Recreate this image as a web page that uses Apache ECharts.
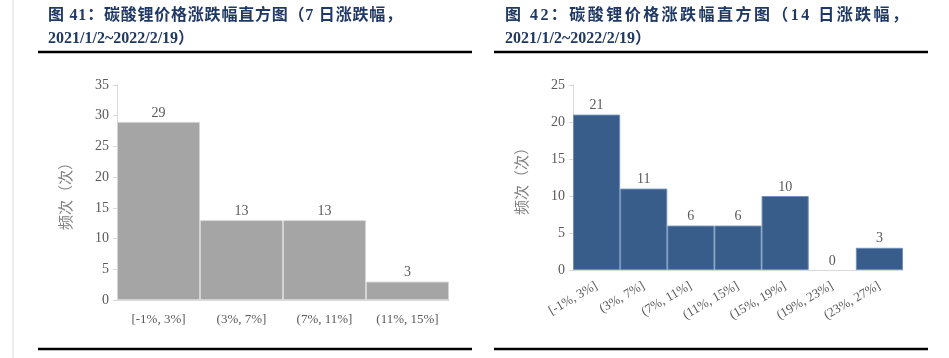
<!DOCTYPE html>
<html><head><meta charset="utf-8">
<script src="https://cdn.jsdelivr.net/npm/echarts@6/dist/echarts.min.js"></script>
<style>html,body{margin:0;padding:0;background:#fff}#c{width:949px;height:358px}</style>
</head><body><div id="c"></div>
<script>
// ---- data ----
var cats7 = ['[-1%, 3%]', '(3%, 7%]', '(7%, 11%]', '(11%, 15%]'];
var vals7 = [29, 13, 13, 3];
var cats14 = ['[-1%, 3%]', '(3%, 7%]', '(7%, 11%]', '(11%, 15%]', '(15%, 19%]', '(19%, 23%]', '(23%, 27%]'];
var vals14 = [21, 11, 6, 6, 10, 0, 3];
var yTicks7 = [0, 5, 10, 15, 20, 25, 30, 35];
var yTicks14 = [0, 5, 10, 15, 20, 25];
var title7a = '图 41：碳酸锂价格涨跌幅直方图（7 日涨跌幅，';
var title7b = '2021/1/2~2022/2/19）';
var title14a = '图 42：碳酸锂价格涨跌幅直方图（14 日涨跌幅，';
var title14b = '2021/1/2~2022/2/19）';
var yName = '频次（次）';

var serif = "'Liberation Serif','Noto Sans CJK SC',serif";
var titleFont = "'Liberation Serif','Noto Sans CJK SC',serif";
var titleColor = '#1f3864';
var axisGray = '#d9d9d9';
var textGray = '#595959';

function yAxis(idx, ticks) {
  return {
    type: 'value', gridIndex: idx, min: ticks[0], max: ticks[ticks.length - 1], interval: ticks[1] - ticks[0],
    name: yName, nameLocation: 'middle', nameGap: 44, nameRotate: 90,
    nameTextStyle: { color: '#7f7f7f', fontSize: 15, fontFamily: "'Noto Sans CJK SC',sans-serif" },
    axisLine: { show: true, lineStyle: { color: axisGray } },
    axisTick: { show: true, length: 4, lineStyle: { color: axisGray } },
    splitLine: { show: false },
    axisLabel: { color: textGray, fontSize: 14, fontFamily: serif, margin: 8 }
  };
}

var graphics = [
  { type: 'line', shape: { x1: 13, y1: 0, x2: 13, y2: 358 }, style: { stroke: '#d9d9d9', lineWidth: 1 } },
  { type: 'line', shape: { x1: 38, y1: 52, x2: 472, y2: 52 }, style: { stroke: '#000', lineWidth: 2.5 } },
  { type: 'line', shape: { x1: 494, y1: 52, x2: 928, y2: 52 }, style: { stroke: '#000', lineWidth: 2.5 } },
  { type: 'line', shape: { x1: 38, y1: 349, x2: 472, y2: 349 }, style: { stroke: '#000', lineWidth: 2.5 } },
  { type: 'line', shape: { x1: 494, y1: 349, x2: 928, y2: 349 }, style: { stroke: '#000', lineWidth: 2.5 } },
  { type: 'text', left: 48, top: 31, style: { text: title7b, fill: titleColor, font: 'bold 16px ' + titleFont } },
  { type: 'text', left: 505, top: 31, style: { text: title14b, fill: titleColor, font: 'bold 16px ' + titleFont } }
];
// title line 1 spread across a given width (justified text)
function spread(text, x0, x1) {
  var chars = Array.from(text);
  var widths = chars.map(function (ch) {
    if (ch === ' ') return 4;
    if (/[0-9]/.test(ch)) return 8;
    return 16;
  });
  var total = widths.reduce(function (a, b) { return a + b; }, 0);
  var extra = (x1 - x0 - total) / (chars.length - 1);
  var x = x0;
  chars.forEach(function (ch, i) {
    if (ch !== ' ') {
      graphics.push({ type: 'text', left: x, top: 8, style: { text: ch, fill: titleColor, font: 'bold 16px ' + titleFont } });
    }
    x += widths[i] + extra;
  });
}
spread(title7a, 48, 402);
spread(title14a, 505, 908);

var chart = echarts.init(document.getElementById('c'));
chart.setOption({
  animation: false,
  backgroundColor: '#fff',
  grid: [
    { left: 117, right: 500, top: 85, bottom: 58 },
    { left: 573, right: 46, top: 85, bottom: 88 }
  ],
  xAxis: [
    {
      type: 'category', gridIndex: 0, data: cats7,
      axisLine: { lineStyle: { color: axisGray } }, axisTick: { show: false },
      axisLabel: { color: textGray, fontSize: 13, fontFamily: serif, margin: 13 }
    },
    {
      type: 'category', gridIndex: 1, data: cats14,
      axisLine: { lineStyle: { color: axisGray } }, axisTick: { show: false },
      axisLabel: { color: textGray, fontSize: 13, fontFamily: serif, margin: 15, rotate: 30, interval: 0 }
    }
  ],
  yAxis: [yAxis(0, yTicks7), yAxis(1, yTicks14)],
  series: [
    {
      type: 'bar', xAxisIndex: 0, yAxisIndex: 0, data: vals7, barCategoryGap: 0,
      itemStyle: { color: '#a5a5a5', borderColor: '#d4d4d4', borderWidth: 1 },
      label: { show: true, position: 'top', distance: 2, color: textGray, fontSize: 14, fontFamily: serif }
    },
    {
      type: 'bar', xAxisIndex: 1, yAxisIndex: 1, barCategoryGap: 0,
      data: vals14.map(function (v) { return v === 0 ? { value: v, itemStyle: { borderWidth: 0 } } : v; }),
      itemStyle: { color: '#385d8a', borderColor: '#6f8fb8', borderWidth: 1 },
      label: { show: true, position: 'top', distance: 2, color: textGray, fontSize: 14, fontFamily: serif }
    }
  ],
  graphic: graphics
});
</script></body></html>
